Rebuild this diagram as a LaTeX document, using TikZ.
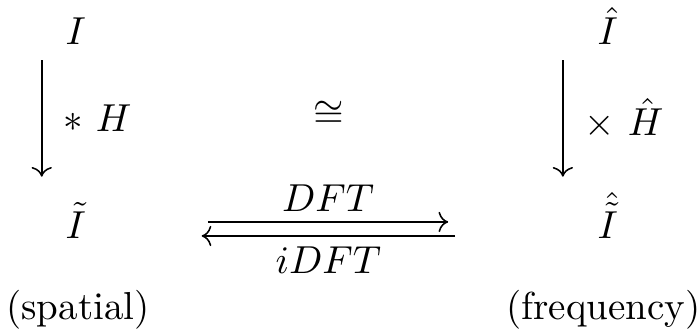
\documentclass[tikz,border=0pt]{standalone}
\usepackage{amsmath,amssymb}
\usepackage{tikz}
\usetikzlibrary{arrows.meta,positioning,calc}

\begin{document}
\begin{tikzpicture}[x=1pt,y=1pt,
    obj/.style={anchor=base},
    lbl/.style={inner sep=2.5pt}]
        \useasboundingbox (0,0) rectangle (179.2,-84.4);
        \node[obj] (I) at (19.4,-11.5) {$I$};
        \node[obj] (Ihat) at (155.8,-11.5) {$\hat{I}$};
        \node[obj] (Itil) at (19.4,-61.2) {$\tilde{I}$};
        \node[obj] (Ihattil) at (155.8,-61.2) {$\hat{\tilde{I}}$};
        \node (iso) at (84.2,-29.3) {$\cong$};
        \draw[->] ([xshift=-8.7pt,yshift=-3.9pt]I.base) -- ([xshift=-8.7pt,yshift=15.9pt]Itil.base)
          node[midway,right=2pt] (conv) {$\ast\ H$};
        \draw[->] ([xshift=-11.5pt,yshift=-3.9pt]Ihat.base) -- ([xshift=-11.5pt,yshift=15.9pt]Ihattil.base)
          node[midway,right=2pt] (mult) {$\times\ \hat{H}$};
        \draw[->] ([xshift=33.9pt,yshift=4.3pt]Itil.base) -- ([xshift=-40.9pt,yshift=4.3pt]Ihattil.base)
          node[midway,above,lbl] (dft) {$DFT$};
        \draw[->] ([xshift=-39.1pt,yshift=0.7pt]Ihattil.base) -- ([xshift=32.3pt,yshift=0.7pt]Itil.base)
          node[midway,below,lbl] (idft) {$iDFT$};
        \node[obj] (spatial) at (20,-82) {(spatial)};
        \node[obj] (freq) at (154.7,-82) {(frequency)};
\end{tikzpicture}
\end{document}
